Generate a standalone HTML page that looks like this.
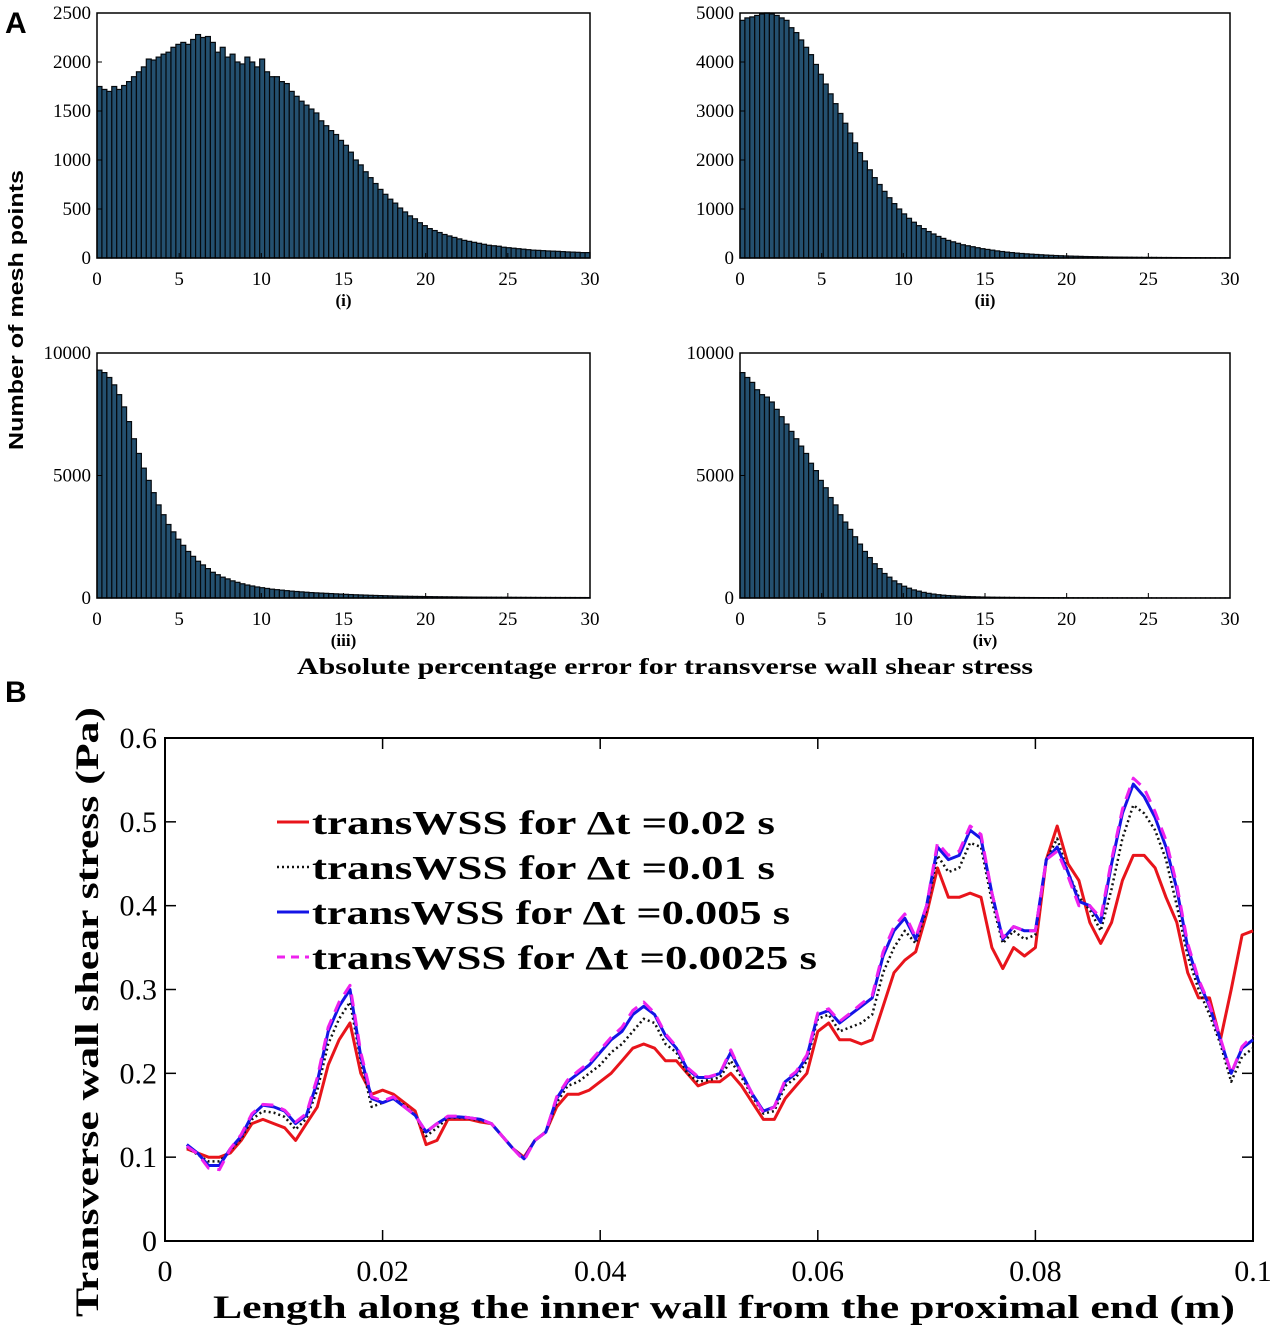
<!DOCTYPE html>
<html><head><meta charset="utf-8">
<style>
html,body{margin:0;padding:0;background:#fff;}
svg{display:block;}
text{font-family:"Liberation Serif",serif;fill:#000;}
.sans{font-family:"Liberation Sans",sans-serif;font-weight:bold;}
</style></head>
<body>
<svg id="fig" width="1280" height="1332" viewBox="0 0 1280 1332" xmlns="http://www.w3.org/2000/svg">
<text class="sans" x="5" y="33" font-size="30">A</text>
<text class="sans" x="5" y="702" font-size="30">B</text>
<text class="sans" font-size="20" transform="translate(23,310) rotate(-90)" text-anchor="middle" textLength="280" lengthAdjust="spacingAndGlyphs">Number of mesh points</text>
<text x="665" y="674" font-size="23" font-weight="bold" text-anchor="middle" textLength="736" lengthAdjust="spacingAndGlyphs">Absolute percentage error for transverse wall shear stress</text>
<g id="hists"></g>
<g id="lineplot"></g>
</svg>
<script>
// ---------- Histogram data (100 bins, width 0.3 over 0..30) ----------
const histXTicks = [0,5,10,15,20,25,30];
const histI = [1750,1720,1700,1750,1720,1760,1800,1850,1900,1950,
2030,2020,2050,2080,2100,2150,2180,2200,2180,2230,
2280,2250,2260,2200,2100,2150,2050,2080,2000,1980,
2050,2000,1950,2030,1900,1850,1850,1800,1780,1700,
1650,1600,1560,1520,1480,1400,1350,1300,1260,1200,
1150,1080,1000,950,880,820,760,700,650,600,
560,510,470,430,400,360,330,300,280,260,
240,225,210,195,180,170,160,150,140,130,
125,120,110,105,100,95,90,85,80,78,
75,72,70,68,65,62,60,58,55,55];
const histII = [4850,4900,4920,4950,4980,5000,4980,4950,4900,4850,
4700,4600,4450,4300,4150,3950,3750,3550,3350,3150,
2950,2750,2550,2350,2150,1980,1800,1640,1500,1360,
1230,1110,1000,900,810,730,660,600,540,490,
440,400,360,330,300,270,250,230,210,190,
175,160,145,132,120,110,100,92,85,78,
72,66,60,55,50,46,42,39,36,33,
30,28,26,24,22,20,19,18,17,16,
15,14,13,12,12,11,10,10,9,9,
8,8,7,7,6,6,6,5,5,5];
const histIII = [9300,9200,9000,8700,8300,7800,7200,6500,5900,5300,
4800,4300,3800,3400,3000,2700,2400,2150,1900,1700,
1500,1350,1200,1050,950,850,780,700,640,580,
530,490,450,420,390,360,340,320,300,280,
265,250,235,220,210,200,190,180,170,160,
150,140,132,125,118,110,104,98,92,86,
80,76,72,68,65,62,59,56,53,50,
48,46,44,42,40,38,36,35,34,33,
32,31,30,29,28,27,26,25,24,23,
22,22,21,21,20,20,20,19,19,18];
const histIV = [9200,9000,8800,8500,8300,8200,8000,7700,7400,7100,
6800,6500,6200,5900,5500,5200,4800,4500,4100,3800,
3400,3100,2800,2500,2200,1900,1650,1400,1200,1000,
850,700,580,480,400,330,280,230,190,160,
135,115,100,88,76,66,58,52,46,40,
36,33,30,28,26,24,22,20,19,18,
17,16,15,14,13,12,12,11,10,10,
9,9,8,8,7,7,7,6,6,6,
5,5,5,5,4,4,4,4,4,3,
3,3,3,3,3,3,3,3,3,3];
const ticksI = [0,500,1000,1500,2000,2500];
const ticksII = [0,1000,2000,3000,4000,5000];
const ticksIII = [0,5000,10000];
const ticksIV = [0,5000,10000];

// ---------- Line plot data: x in metres ----------
const lineX = [0.002,0.003,0.004,0.005,0.006,0.007,0.008,0.009,0.010,0.011,0.012,0.013,0.014,0.015,0.016,0.017,0.018,0.019,0.020,0.021,0.022,0.023,0.024,0.025,0.026,0.027,0.028,0.029,0.030,0.031,0.032,0.033,0.034,0.035,0.036,0.037,0.038,0.039,0.040,0.041,0.042,0.043,0.044,0.045,0.046,0.047,0.048,0.049,0.050,0.051,0.052,0.053,0.054,0.055,0.056,0.057,0.058,0.059,0.060,0.061,0.062,0.063,0.064,0.065,0.066,0.067,0.068,0.069,0.070,0.071,0.072,0.073,0.074,0.075,0.076,0.077,0.078,0.079,0.080,0.081,0.082,0.083,0.084,0.085,0.086,0.087,0.088,0.089,0.090,0.091,0.092,0.093,0.094,0.095,0.096,0.097,0.098,0.099,0.100];
const wssRed = [0.11,0.105,0.1,0.1,0.105,0.12,0.14,0.145,0.14,0.135,0.12,0.14,0.16,0.21,0.24,0.26,0.2,0.175,0.18,0.175,0.165,0.155,0.115,0.12,0.145,0.145,0.145,0.142,0.14,0.125,0.11,0.1,0.12,0.13,0.16,0.175,0.175,0.18,0.19,0.2,0.215,0.23,0.235,0.23,0.215,0.215,0.2,0.185,0.19,0.19,0.2,0.185,0.165,0.145,0.145,0.17,0.185,0.2,0.25,0.26,0.24,0.24,0.235,0.24,0.28,0.32,0.335,0.345,0.39,0.445,0.41,0.41,0.415,0.41,0.35,0.325,0.35,0.34,0.35,0.455,0.495,0.45,0.43,0.38,0.355,0.38,0.43,0.46,0.46,0.445,0.41,0.38,0.32,0.29,0.29,0.24,0.3,0.365,0.37];
const wssBlack = [0.112,0.103,0.095,0.095,0.108,0.122,0.145,0.155,0.153,0.148,0.133,0.146,0.18,0.235,0.265,0.285,0.215,0.16,0.165,0.17,0.162,0.15,0.125,0.135,0.147,0.147,0.146,0.144,0.14,0.125,0.11,0.098,0.12,0.13,0.165,0.185,0.19,0.2,0.21,0.225,0.235,0.25,0.265,0.26,0.235,0.225,0.2,0.19,0.192,0.195,0.215,0.195,0.172,0.152,0.155,0.185,0.195,0.215,0.265,0.27,0.25,0.255,0.26,0.27,0.32,0.35,0.37,0.355,0.395,0.46,0.44,0.445,0.475,0.47,0.405,0.355,0.37,0.36,0.365,0.455,0.48,0.44,0.41,0.395,0.37,0.42,0.48,0.52,0.51,0.49,0.455,0.4,0.34,0.3,0.27,0.235,0.19,0.22,0.23];
const wssBlue = [0.115,0.105,0.09,0.09,0.11,0.125,0.15,0.162,0.16,0.155,0.14,0.15,0.19,0.25,0.28,0.3,0.22,0.17,0.165,0.17,0.16,0.15,0.13,0.14,0.148,0.148,0.147,0.145,0.14,0.125,0.11,0.098,0.12,0.13,0.17,0.19,0.2,0.21,0.225,0.24,0.25,0.27,0.28,0.27,0.245,0.23,0.205,0.195,0.195,0.2,0.225,0.2,0.175,0.155,0.16,0.19,0.2,0.22,0.27,0.275,0.26,0.27,0.28,0.29,0.34,0.37,0.385,0.36,0.4,0.47,0.455,0.46,0.49,0.48,0.415,0.36,0.375,0.37,0.37,0.455,0.47,0.44,0.405,0.4,0.38,0.45,0.51,0.545,0.53,0.505,0.47,0.42,0.35,0.31,0.28,0.24,0.2,0.23,0.24];
const wssMagenta = [0.113,0.104,0.087,0.085,0.11,0.127,0.152,0.163,0.162,0.156,0.142,0.152,0.195,0.255,0.285,0.305,0.225,0.172,0.167,0.172,0.16,0.15,0.13,0.14,0.149,0.149,0.147,0.145,0.14,0.125,0.11,0.096,0.12,0.13,0.172,0.192,0.203,0.213,0.228,0.243,0.255,0.275,0.285,0.272,0.247,0.232,0.207,0.196,0.196,0.2,0.228,0.2,0.175,0.153,0.16,0.192,0.202,0.222,0.272,0.277,0.262,0.272,0.283,0.293,0.345,0.375,0.39,0.362,0.4,0.475,0.46,0.465,0.495,0.485,0.415,0.362,0.375,0.37,0.37,0.455,0.465,0.435,0.4,0.4,0.385,0.455,0.515,0.552,0.54,0.512,0.478,0.425,0.355,0.312,0.282,0.242,0.2,0.232,0.245];
const lineXTicks = [0,0.02,0.04,0.06,0.08,0.1];
const lineXTickLabels = ["0","0.02","0.04","0.06","0.08","0.1"];
const lineYTicks = [0,0.1,0.2,0.3,0.4,0.5,0.6];
const lineYTickLabels = ["0","0.1","0.2","0.3","0.4","0.5","0.6"];
const legendLabels = ["transWSS for \u0394t =0.02 s","transWSS for \u0394t =0.01 s","transWSS for \u0394t =0.005 s","transWSS for \u0394t =0.0025 s"];
const legendWidths = [463,463,478,505];

const NS = "http://www.w3.org/2000/svg";
function mk(tag, attrs, parent){
  const e = document.createElementNS(NS, tag);
  for (const k in attrs) e.setAttribute(k, attrs[k]);
  parent.appendChild(e);
  return e;
}

function drawHist(g, vals, yTicks, x0, x1, yTop, yBot, ymax, sub, id){
  const sx = v => x0 + (v/30)*(x1-x0);
  const sy = v => yBot - (v/ymax)*(yBot-yTop);
  const grp = mk("g", {}, g);
  
  
  const bw = 30/vals.length;
  vals.forEach((v,i)=>{
    const r = mk("rect", {x: sx(i*bw), y: sy(v), width: sx(bw)-sx(0), height: yBot - sy(v), fill:"#24506f", stroke:"#05090d", "stroke-width":"1.2"}, grp);
    
    
  });
  const box = mk("rect", {x:x0, y:yTop, width:x1-x0, height:yBot-yTop, fill:"none", stroke:"#000", "stroke-width":"1.5"}, grp);
  
  
  histXTicks.forEach(t=>{
    mk("line", {x1:sx(t), x2:sx(t), y1:yBot, y2:yBot-5, stroke:"#000", "stroke-width":"1"}, grp);
    const tx = mk("text", {x:sx(t), y:yBot+27, "font-size":"19", "text-anchor":"middle"}, grp);
    tx.textContent = t;
    
    
  });
  yTicks.forEach(t=>{
    mk("line", {x1:x0, x2:x0+5, y1:sy(t), y2:sy(t), stroke:"#000", "stroke-width":"1"}, grp);
    const tx = mk("text", {x:x0-6, y:sy(t)+6, "font-size":"19", "text-anchor":"end"}, grp);
    tx.textContent = t;
    
    
  });
  const st = mk("text", {x:(x0+x1)/2, y:yBot+48, "font-size":"17", "font-weight":"bold", "text-anchor":"middle"}, grp);
  st.textContent = sub;
  
  
}
const hg = document.getElementById("hists");
drawHist(hg, histI, ticksI, 97, 590, 13, 258, 2500, "(i)", "i");
drawHist(hg, histII, ticksII, 740, 1230, 13, 258, 5000, "(ii)", "ii");
drawHist(hg, histIII, ticksIII, 97, 590, 353, 598, 10000, "(iii)", "iii");
drawHist(hg, histIV, ticksIV, 740, 1230, 353, 598, 10000, "(iv)", "iv");

// ---------- line plot ----------
const lg = document.getElementById("lineplot");
const LX0=165, LX1=1253, LY0=738, LY1=1241;
const lx = v => LX0 + (v/0.1)*(LX1-LX0);
const ly = v => LY1 - (v/0.6)*(LY1-LY0);
const frame = mk("rect", {x:LX0, y:LY0, width:LX1-LX0, height:LY1-LY0, fill:"none", stroke:"#000", "stroke-width":"2"}, lg);


lineXTicks.forEach((t,i)=>{
  mk("line", {x1:lx(t), x2:lx(t), y1:LY1, y2:LY1-11, stroke:"#000", "stroke-width":"1.5"}, lg);
  mk("line", {x1:lx(t), x2:lx(t), y1:LY0, y2:LY0+11, stroke:"#000", "stroke-width":"1.5"}, lg);
  const tx = mk("text", {x:lx(t), y:LY1+40, "font-size":"30", "text-anchor":"middle"}, lg);
  tx.textContent = lineXTickLabels[i];
  
  
});
lineYTicks.forEach((t,i)=>{
  mk("line", {x1:LX0, x2:LX0+11, y1:ly(t), y2:ly(t), stroke:"#000", "stroke-width":"1.5"}, lg);
  mk("line", {x1:LX1, x2:LX1-11, y1:ly(t), y2:ly(t), stroke:"#000", "stroke-width":"1.5"}, lg);
  const tx = mk("text", {x:LX0-8, y:ly(t)+10, "font-size":"30", "text-anchor":"end"}, lg);
  tx.textContent = lineYTickLabels[i];
  
  
});
const xt = mk("text", {x:724, y:1318, "font-size":"33", "font-weight":"bold", "text-anchor":"middle", textLength:"1022", lengthAdjust:"spacingAndGlyphs"}, lg);
xt.textContent = "Length along the inner wall from the proximal end (m)";


const yt = mk("text", {transform:"translate(98,1012) rotate(-90)", "font-size":"33", "font-weight":"bold", "text-anchor":"middle", textLength:"610", lengthAdjust:"spacingAndGlyphs"}, lg);
yt.textContent = "Transverse wall shear stress (Pa)";



const seriesList = [
  {vals:wssRed, color:"#e8141b", dash:"", w:3, name:"series-dt-0.02"},
  {vals:wssBlack, color:"#111", dash:"2 3", w:2.5, name:"series-dt-0.01"},
  {vals:wssBlue, color:"#1414e6", dash:"", w:3, name:"series-dt-0.005"},
  {vals:wssMagenta, color:"#ee22ee", dash:"12 8", w:3, name:"series-dt-0.0025"}
];
seriesList.forEach(s=>{
  const d = s.vals.map((v,i)=>(i?"L":"M")+lx(lineX[i]).toFixed(1)+","+ly(v).toFixed(1)).join(" ");
  const p = mk("path", {d:d, fill:"none", stroke:s.color, "stroke-width":s.w, "stroke-dasharray":s.dash, "stroke-linejoin":"round"}, lg);
  
  
});
// legend
const leg = mk("g", {}, lg);


seriesList.forEach((s,i)=>{
  const y = 822 + i*45;
  mk("line", {x1:277, x2:309, y1:y, y2:y, stroke:s.color, "stroke-width":s.w, "stroke-dasharray": s.dash ? (i==1?"2 3":"8 6") : ""}, leg);
  const t = mk("text", {x:312, y:y+12, "font-size":"34", "font-weight":"bold", textLength:legendWidths[i], lengthAdjust:"spacingAndGlyphs"}, leg);
  t.textContent = legendLabels[i];
  
  
});
</script>
</body></html>
